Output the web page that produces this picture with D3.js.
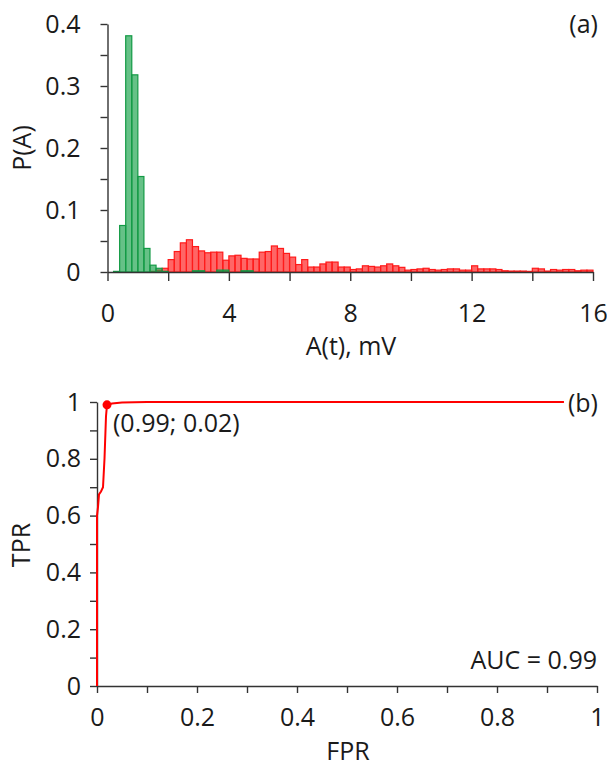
<!DOCTYPE html>
<html>
<head>
<meta charset="utf-8">
<script src="https://cdn.jsdelivr.net/npm/d3@7"></script>
<style>
  body { margin: 0; background: #fff; }
  text { font-family: "Open Sans", sans-serif; fill: #1a1a1a; }
  .axis path, .axis line { stroke: #333; stroke-width: 1.4; }
  .axis text { font-size: 25px; fill: #1a1a1a; }
</style>
</head>
<body>
<script>
// histogram (a): bins of 0.2 mV, starting at 0.0
const binWidth = 0.2;
const greenP = [0, 0.001, 0.075, 0.381, 0.318, 0.154, 0.038, 0.011, 0.006, 0.001,
  0, 0, 0, 0, 0.002, 0.002, 0, 0, 0.003, 0.003,
  0, 0, 0.002, 0.002, 0, 0, 0, 0, 0, 0,
  0, 0, 0, 0, 0, 0, 0, 0, 0, 0,
  0, 0, 0, 0, 0, 0, 0, 0, 0, 0,
  0, 0, 0, 0, 0, 0, 0, 0, 0, 0,
  0, 0, 0, 0, 0, 0, 0, 0, 0, 0,
  0, 0, 0, 0, 0, 0, 0, 0, 0, 0];
const redP = [0, 0, 0, 0, 0, 0, 0, 0.001, 0.003, 0.006,
  0.020, 0.033, 0.047, 0.052, 0.041, 0.034, 0.031, 0.032, 0.032, 0.019,
  0.026, 0.027, 0.022, 0.021, 0.021, 0.032, 0.033, 0.042, 0.038, 0.030,
  0.024, 0.012, 0.020, 0.008, 0.008, 0.013, 0.016, 0.016, 0.008, 0.008,
  0.004, 0.005, 0.010, 0.009, 0.008, 0.010, 0.013, 0.010, 0.0075, 0.003,
  0.004, 0.005, 0.006, 0.004, 0.003, 0.004, 0.005, 0.005, 0.003, 0.003,
  0.010, 0.005, 0.005, 0.005, 0.004, 0.002, 0.0015, 0.0015, 0.0015, 0.001,
  0.006, 0.005, 0.0015, 0.004, 0.003, 0.004, 0.004, 0.002, 0.003, 0.003];
const histXTicks = [0, 2, 4, 6, 8, 10, 12, 14, 16];
const histYTicks = [0, 0.05, 0.1, 0.15, 0.2, 0.25, 0.3, 0.35, 0.4];

// ROC (b)
const fpr = [0, 0, 0.002, 0.004, 0.008, 0.012, 0.015, 0.018, 0.02, 0.03, 0.05, 0.1, 0.3, 0.6, 1];
const tpr = [0, 0.6, 0.63, 0.675, 0.685, 0.70, 0.80, 0.95, 0.99, 0.995, 0.998, 1, 1, 1, 1];
const optimum = {fpr: 0.02, tpr: 0.99};
const rocTicks = [0, 0.1, 0.2, 0.3, 0.4, 0.5, 0.6, 0.7, 0.8, 0.9, 1];

const svg = d3.select("body").append("svg")
  .attr("width", 607)
  .attr("height", 771);

// ---------- panel (a) ----------
const xA = d3.scaleLinear().domain([0, 16]).range([107.5, 593]);
const yA = d3.scaleLinear().domain([0, 0.4]).range([272, 24]);

const bins = greenP.map((g, i) => ({x0: i * binWidth, g: g, r: redP[i]}));

svg.append("g").selectAll("rect")
  .data(bins.filter(d => d.r > 0))
  .enter().append("rect")
  .attr("x", d => xA(d.x0))
  .attr("y", d => yA(d.r))
  .attr("width", d => xA(d.x0 + binWidth) - xA(d.x0))
  .attr("height", d => yA(0) - yA(d.r))
  .attr("fill", "rgba(255,0,0,0.6)")
  .attr("stroke", "#ff1a1a")
  .attr("stroke-width", 1.2);

svg.append("g").selectAll("rect")
  .data(bins.filter(d => d.g > 0))
  .enter().append("rect")
  .attr("x", d => xA(d.x0))
  .attr("y", d => yA(d.g))
  .attr("width", d => xA(d.x0 + binWidth) - xA(d.x0))
  .attr("height", d => yA(0) - yA(d.g))
  .attr("fill", "rgba(20,160,70,0.65)")
  .attr("stroke", "#139a45")
  .attr("stroke-width", 1.2);

svg.append("g")
  .attr("class", "axis")
  .attr("transform", "translate(0,272)")
  .call(d3.axisBottom(xA).tickValues(histXTicks).tickSize(9).tickSizeOuter(0).tickPadding(23)
    .tickFormat(d => d % 4 === 0 ? d : ""));

svg.append("g")
  .attr("class", "axis")
  .attr("transform", "translate(107.5,0)")
  .call(d3.axisLeft(yA).tickValues(histYTicks).tickSize(7).tickSizeOuter(0).tickPadding(20)
    .tickFormat(d => Math.round(d * 100) % 10 === 0 ? d3.format("~g")(d) : ""));

svg.append("text")
  .attr("x", 351).attr("y", 355)
  .attr("text-anchor", "middle")
  .style("font-size", "25px")
  .text("A(t), mV");

svg.append("text")
  .attr("transform", "translate(31,148) rotate(-90)")
  .attr("text-anchor", "middle")
  .style("font-size", "25px")
  .text("P(A)");

svg.append("text")
  .attr("x", 598).attr("y", 33)
  .attr("text-anchor", "end")
  .style("font-size", "25px")
  .text("(a)");

// ---------- panel (b) ----------
const xB = d3.scaleLinear().domain([0, 1]).range([97, 597]);
const yB = d3.scaleLinear().domain([0, 1]).range([686, 402]);

svg.append("g")
  .attr("class", "axis")
  .attr("transform", "translate(0,686)")
  .call(d3.axisBottom(xB).tickValues(rocTicks).tickSize(7).tickSizeOuter(0).tickPadding(15)
    .tickFormat(d => Math.round(d * 10) % 2 === 0 ? d3.format("~g")(d) : ""));

svg.append("g")
  .attr("class", "axis")
  .attr("transform", "translate(97,0)")
  .call(d3.axisLeft(yB).tickValues(rocTicks).tickSize(7).tickSizeOuter(0).tickPadding(9)
    .tickFormat(d => Math.round(d * 10) % 2 === 0 ? d3.format("~g")(d) : ""));

const roc = fpr.map((f, i) => [f, tpr[i]]);
svg.append("path")
  .datum(roc)
  .attr("fill", "none")
  .attr("stroke", "#ff0000")
  .attr("stroke-width", 2)
  .attr("d", d3.line().x(d => xB(d[0])).y(d => yB(d[1])));

svg.append("circle")
  .attr("cx", xB(optimum.fpr))
  .attr("cy", yB(optimum.tpr))
  .attr("r", 4.5)
  .attr("fill", "#ff0000");

svg.append("text")
  .attr("x", 113).attr("y", 432)
  .style("font-size", "25px")
  .text("(0.99; 0.02)");

svg.append("text")
  .attr("x", 597).attr("y", 669)
  .attr("text-anchor", "end")
  .style("font-size", "25px")
  .text("AUC = 0.99");

// panel letter (b) sits on a white patch over the curve
const bPatch = svg.append("rect").attr("fill", "#fff");
const bLabel = svg.append("text")
  .attr("x", 598).attr("y", 412)
  .attr("text-anchor", "end")
  .style("font-size", "25px")
  .text("(b)");
const bb = bLabel.node().getBBox();
bPatch.attr("x", bb.x - 4).attr("y", bb.y)
  .attr("width", bb.width + 4).attr("height", bb.height);

svg.append("text")
  .attr("x", 348).attr("y", 760)
  .attr("text-anchor", "middle")
  .style("font-size", "25px")
  .text("FPR");

svg.append("text")
  .attr("transform", "translate(30,545) rotate(-90)")
  .attr("text-anchor", "middle")
  .style("font-size", "25px")
  .text("TPR");
</script>
</body>
</html>
